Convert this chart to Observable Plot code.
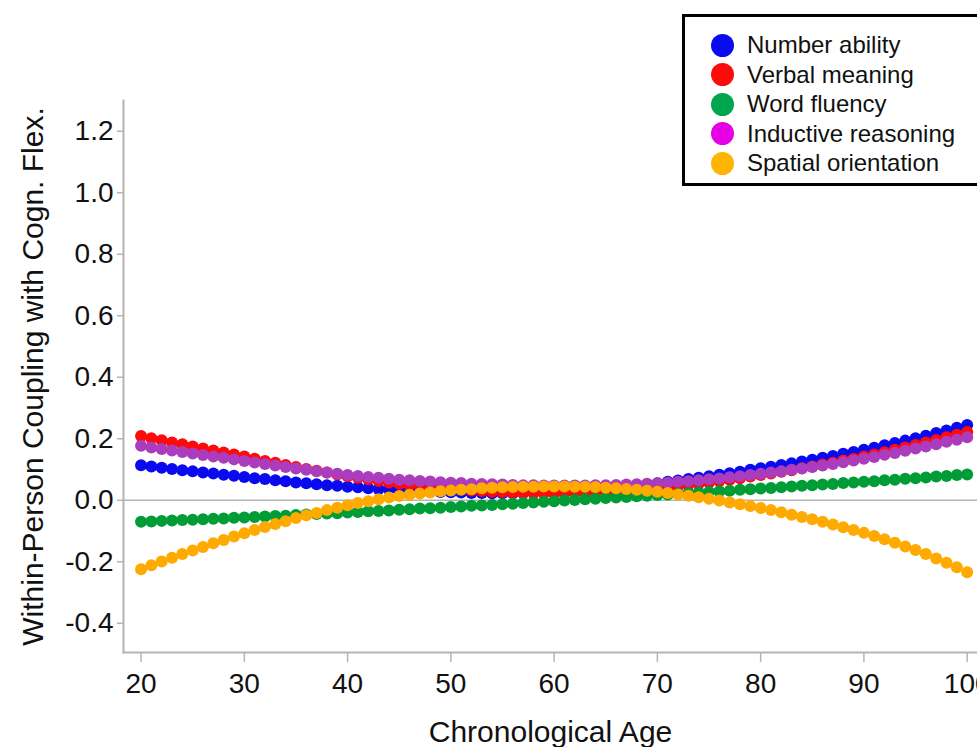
<!DOCTYPE html>
<html>
<head>
<meta charset="utf-8">
<script src="https://cdn.jsdelivr.net/npm/d3@7"></script>
<script src="https://cdn.jsdelivr.net/npm/@observablehq/plot@0.6"></script>
<style>
  html, body { margin: 0; padding: 0; background: #fff; overflow: hidden; }
  #wrap { position: relative; width: 977px; height: 747px; overflow: hidden; }
  #wrap svg { display: block; }
  g[aria-label="x-axis label"] text, g[aria-label="y-axis label"] text { font-size: 30px; }
  #legend {
    position: absolute; left: 682px; top: 14px; width: 330px; height: 166px;
    border: 3px solid #000; box-sizing: content-box;
    font-family: "Liberation Sans", Arial, sans-serif; font-size: 24px; color: #111;
    padding-top: 0;
  }
  #legend .row { position: absolute; left: 0; height: 30px; display: flex; align-items: center; }
  #legend .sw { width: 23px; height: 23px; border-radius: 50%; margin-left: 26px; margin-right: 13px; }
</style>
</head>
<body>
<div id="wrap"></div>
<script>
// ---- data ----
const ages = [20,21,22,23,24,25,26,27,28,29,30,31,32,33,34,35,36,37,38,39,40,41,42,43,44,45,46,47,48,49,50,
  51,52,53,54,55,56,57,58,59,60,61,62,63,64,65,66,67,68,69,70,71,72,73,74,75,76,77,78,79,80,
  81,82,83,84,85,86,87,88,89,90,91,92,93,94,95,96,97,98,99,100];

const seriesNames = ["Number ability", "Verbal meaning", "Word fluency", "Inductive reasoning", "Spatial orientation"];
const dotColors = ["#0a0af0", "#ff0a0a", "#009c35", "#ac3cbe", "#ffaa00"];
const legendColors = ["#0a0af0", "#ff0a0a", "#00a550", "#e600e6", "#ffb400"];

const numberAbility = [.114,.110,.106,.102,.098,.094,.090,.087,.083,.080,.076,.072,.069,.065,.062,.058,.055,.052,.049,.047,.044,
  .042,.039,.037,.035,.033,.031,.030,.028,.027,.026,.025,.024,.024,.023,.023,.023,.024,.024,.025,.026,
  .028,.029,.031,.033,.036,.039,.043,.047,.051,.055,.060,.064,.069,.073,.078,.083,.088,.093,.099,.104,
  .109,.115,.120,.126,.132,.138,.144,.151,.157,.164,.171,.179,.186,.194,.202,.210,.219,.227,.236,.245];

const verbalMeaning = [.209,.202,.195,.188,.182,.175,.168,.162,.155,.149,.142,.135,.128,.122,.115,.108,.102,.096,.090,.084,.078,
  .073,.068,.063,.058,.054,.050,.047,.043,.040,.037,.035,.032,.030,.028,.027,.025,.024,.024,.023,.023,
  .023,.024,.025,.026,.027,.029,.031,.034,.036,.039,.042,.046,.050,.054,.058,.063,.067,.072,.077,.082,
  .087,.093,.098,.104,.110,.116,.122,.129,.135,.142,.149,.156,.164,.172,.180,.188,.196,.205,.213,.222];

const wordFluency = [-.070,-.069,-.067,-.066,-.064,-.063,-.062,-.060,-.059,-.057,-.056,-.054,-.053,-.051,-.050,-.048,-.046,-.045,-.043,-.042,-.040,
  -.038,-.036,-.035,-.033,-.031,-.029,-.027,-.026,-.024,-.022,-.020,-.018,-.017,-.015,-.013,-.011,-.009,-.007,-.005,-.003,
  -.001,.001,.003,.005,.007,.009,.011,.013,.015,.017,.019,.021,.023,.025,.027,.029,.031,.034,.036,.038,
  .040,.042,.045,.047,.049,.051,.053,.056,.058,.060,.062,.065,.067,.070,.072,.074,.077,.079,.082,.084];

const inductiveReasoning = [.177,.172,.167,.162,.157,.152,.147,.142,.138,.133,.128,.123,.118,.113,.108,.103,.099,.094,.090,.086,.082,
  .079,.076,.073,.070,.067,.065,.063,.061,.059,.057,.056,.054,.053,.052,.051,.050,.049,.049,.048,.048,
  .048,.048,.048,.049,.049,.050,.051,.052,.054,.055,.057,.060,.062,.065,.068,.071,.075,.078,.082,.086,
  .090,.094,.099,.103,.108,.113,.118,.124,.129,.135,.141,.148,.154,.161,.168,.175,.182,.190,.197,.205];

const spatialOrientation = [-.224,-.211,-.199,-.187,-.175,-.163,-.152,-.140,-.129,-.118,-.107,-.097,-.087,-.077,-.068,-.058,-.049,-.041,-.032,-.024,-.016,
  -.009,-.003,.003,.009,.014,.018,.022,.025,.029,.032,.034,.036,.039,.041,.042,.043,.044,.044,.045,.045,
  .045,.044,.044,.043,.041,.039,.037,.034,.031,.028,.024,.019,.015,.010,.005,-.001,-.007,-.013,-.019,-.025,
  -.032,-.039,-.047,-.054,-.062,-.070,-.079,-.088,-.097,-.106,-.116,-.127,-.138,-.150,-.162,-.175,-.189,-.203,-.218,-.234];

const xTicks = [20, 30, 40, 50, 60, 70, 80, 90, 100];
const yTicks = [-0.4, -0.2, 0.0, 0.2, 0.4, 0.6, 0.8, 1.0, 1.2];
const xDomain = [18.3, 101];
const yDomain = [-0.495, 1.3];

// ---- table ----
const seriesValues = [numberAbility, verbalMeaning, wordFluency, inductiveReasoning, spatialOrientation];
const rows = [];
seriesValues.forEach((vals, si) => {
  vals.forEach((v, i) => rows.push({age: ages[i], value: v, series: seriesNames[si]}));
});

const axisGray = "#b4b4b4";

const chart = Plot.plot({
  width: 977,
  height: 747,
  marginLeft: 123,
  marginRight: 0,
  marginTop: 100,
  marginBottom: 95,
  style: {fontFamily: "'Liberation Sans', Arial, sans-serif", fontSize: "28px", color: "#111", background: "#fff"},
  x: {domain: xDomain},
  y: {domain: yDomain},
  color: {domain: seriesNames, range: dotColors},
  marks: [
    Plot.ruleY([0], {stroke: axisGray, strokeWidth: 1.5}),
    Plot.axisX({ticks: xTicks, tickSize: 10, tickPadding: 11, stroke: axisGray, strokeWidth: 1.5,
      label: "Chronological Age", labelArrow: "none", labelAnchor: "center", labelOffset: 89}),
    Plot.axisY({ticks: yTicks, tickSize: 6, tickPadding: 4, stroke: axisGray, strokeWidth: 1.5,
      tickFormat: d => d.toFixed(1),
      label: "Within-Person Coupling with Cogn. Flex.", labelArrow: "none", labelAnchor: "center", labelOffset: 102}),
    Plot.frame({anchor: "left", stroke: axisGray, strokeWidth: 2}),
    Plot.frame({anchor: "bottom", stroke: axisGray, strokeWidth: 2}),
    Plot.dot(rows, {x: "age", y: "value", fill: "series", r: 6, stroke: "none"})
  ]
});

const wrap = document.getElementById("wrap");
wrap.appendChild(chart);

// ---- legend ----
const legend = document.createElement("div");
legend.id = "legend";
seriesNames.forEach((name, i) => {
  const row = document.createElement("div");
  row.className = "row";
  row.style.top = (13 + i * 29.6) + "px";
  const sw = document.createElement("span");
  sw.className = "sw";
  sw.style.background = legendColors[i];
  const tx = document.createElement("span");
  tx.textContent = name;
  row.appendChild(sw);
  row.appendChild(tx);
  legend.appendChild(row);
});
wrap.appendChild(legend);
</script>
</body>
</html>
